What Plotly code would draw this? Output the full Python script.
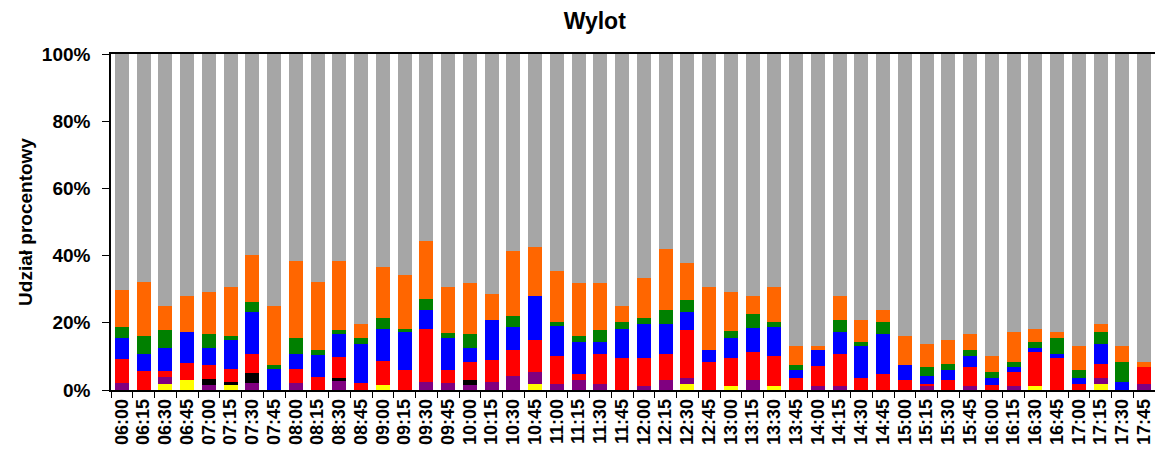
import plotly.graph_objects as go

# kategorie czasowe (co 15 min)
times = [
    "06:00", "06:15", "06:30", "06:45", "07:00", "07:15", "07:30", "07:45",
    "08:00", "08:15", "08:30", "08:45", "09:00", "09:15", "09:30", "09:45",
    "10:00", "10:15", "10:30", "10:45", "11:00", "11:15", "11:30", "11:45",
    "12:00", "12:15", "12:30", "12:45", "13:00", "13:15", "13:30", "13:45",
    "14:00", "14:15", "14:30", "14:45", "15:00", "15:15", "15:30", "15:45",
    "16:00", "16:15", "16:30", "16:45", "17:00", "17:15", "17:30", "17:45",
]

# udziały procentowe, od dołu słupka
yellow = [0, 0, 1.8, 3.0, 0, 1.4, 0, 0, 0, 0, 0, 0, 1.4, 0, 0, 0,
          0, 0, 0, 1.9, 0, 0, 0, 0, 0, 0, 1.9, 0, 1.3, 0, 1.3, 0,
          0, 0, 0, 0, 0, 0, 0, 0, 0, 0, 1.3, 0, 0, 1.9, 0, 0]
purple = [2.0, 0, 2.0, 0, 1.5, 0, 2.1, 0, 2.0, 0, 2.6, 0, 0, 0, 2.5, 2.0,
          1.4, 2.5, 4.3, 3.6, 1.9, 3.1, 1.9, 0, 1.3, 3.1, 1.8, 0, 0, 3.1, 0, 0,
          1.3, 1.3, 0, 0, 0, 1.3, 0, 1.3, 0, 1.3, 0, 0, 0, 1.8, 0, 1.9]
black = [0, 0, 0, 0, 1.7, 1.1, 2.9, 0, 0, 0, 1.1, 0, 0, 0, 0, 0,
         1.7, 0, 0, 0, 0, 0, 0, 0, 0, 0, 0, 0, 0, 0, 0, 0,
         0, 0, 0, 0, 0, 0, 0, 0, 0, 0, 0, 0, 0, 0, 0, 0]
red = [7.2, 5.6, 1.8, 5.0, 4.2, 3.7, 5.8, 0, 4.2, 3.9, 6.0, 2.0, 7.1, 6.1, 15.8, 4.1,
       5.3, 6.5, 7.6, 9.3, 8.2, 1.8, 8.8, 9.6, 8.3, 7.6, 14.1, 8.4, 8.3, 8.2, 8.8, 3.7,
       5.9, 9.4, 3.7, 4.9, 3.1, 0.6, 3.1, 5.4, 1.4, 4.2, 10.0, 9.6, 1.9, 4.1, 0, 4.8]
blue = [6.3, 5.2, 7.0, 9.2, 5.2, 8.6, 12.4, 6.2, 4.6, 6.4, 6.9, 11.6, 9.8, 11.1, 5.4, 9.3,
        4.1, 11.7, 7.0, 13.1, 8.9, 9.3, 3.5, 8.7, 10.0, 8.8, 5.3, 3.5, 5.8, 7.1, 8.8, 2.4,
        4.7, 6.5, 9.3, 11.7, 4.2, 2.4, 3.0, 3.4, 2.3, 1.2, 1.2, 1.1, 1.8, 5.9, 2.5, 0]
green = [3.4, 5.2, 5.3, 0, 4.0, 1.2, 2.9, 1.2, 4.7, 1.6, 1.2, 1.8, 3.1, 1.1, 3.5, 1.7,
         4.1, 0, 3.0, 0, 1.2, 1.8, 3.6, 1.8, 1.8, 4.2, 3.6, 0, 2.3, 4.1, 1.2, 1.2,
         0, 3.5, 1.2, 3.5, 0, 2.4, 1.7, 1.8, 1.7, 1.7, 1.7, 4.7, 2.4, 3.5, 5.9, 0]
orange = [10.8, 16.0, 7.0, 10.7, 12.5, 14.8, 14.1, 17.5, 22.9, 20.1, 20.6, 4.1, 15.3, 16.0, 17.1, 13.6,
          15.3, 7.8, 19.5, 14.7, 15.3, 15.9, 14.1, 4.8, 11.8, 18.2, 11.1, 18.8, 11.4, 5.4, 10.6, 5.8,
          1.2, 7.2, 6.6, 3.6, 8.7, 6.9, 7.0, 4.7, 4.7, 8.8, 4.1, 1.8, 7.0, 2.3, 4.7, 1.7]
gray = [70.3, 68.0, 75.1, 72.1, 70.9, 69.2, 59.8, 75.1, 61.6, 68.0, 61.6, 80.5, 63.3, 65.7, 55.7, 69.3,
        68.1, 71.5, 58.6, 57.4, 64.5, 68.1, 68.1, 75.1, 66.8, 58.1, 62.2, 69.3, 70.9, 72.1, 69.3, 86.9,
        86.9, 72.1, 79.2, 76.3, 84.0, 86.4, 85.2, 83.4, 89.9, 82.8, 81.7, 82.8, 86.9, 80.5, 86.9, 91.6]

y_ticks = [0, 20, 40, 60, 80, 100]
y_labels = ["0%", "20%", "40%", "60%", "80%", "100%"]

series = [
    ("yellow", yellow, "#FFFF00"),
    ("purple", purple, "#800080"),
    ("black", black, "#000000"),
    ("red", red, "#FF0000"),
    ("blue", blue, "#0000FF"),
    ("green", green, "#008000"),
    ("orange", orange, "#FF6600"),
    ("gray", gray, "#A6A6A6"),
]

FONT = "Liberation Sans, Arial, sans-serif"

fig = go.Figure()
for name, vals, color in series:
    fig.add_trace(go.Bar(
        x=times, y=vals, name=name,
        marker=dict(color=color, line=dict(width=0)),
    ))

# strona html ma 8 px marginesu body, stąd mniejsza figura
fig.update_layout(
    barmode="stack",
    bargap=0.36,
    width=1155, height=453,
    margin=dict(l=103, r=6, t=46, b=71),
    plot_bgcolor="white",
    paper_bgcolor="white",
    showlegend=False,
    font=dict(family=FONT, color="black"),
    title=dict(
        text="Wylot", x=0.508, xanchor="center", y=0.99, yanchor="top",
        font=dict(size=23, family=FONT, weight="bold", color="black"),
    ),
)
fig.update_xaxes(
    type="category",
    tickmode="array", tickvals=times, ticktext=times,
    tickangle=-90,
    tickfont=dict(size=18, family=FONT, weight="bold"),
    ticks="outside", ticklen=6, tickcolor="black",
    tickson="boundaries",
    showline=True, linecolor="black", linewidth=1.5, mirror=True,
    showgrid=False,
)
fig.update_yaxes(
    range=[0, 100],
    tickmode="array", tickvals=y_ticks, ticktext=y_labels,
    tickfont=dict(size=19, family=FONT, weight="bold"),
    ticks="outside", ticklen=7, tickcolor="black",
    ticklabelstandoff=8,
    showline=True, linecolor="black", linewidth=1.5, mirror=True,
    showgrid=False, zeroline=False,
    title=dict(text="Udział procentowy", standoff=4,
               font=dict(size=19, family=FONT, weight="bold")),
)

fig.write_html("out.html")
